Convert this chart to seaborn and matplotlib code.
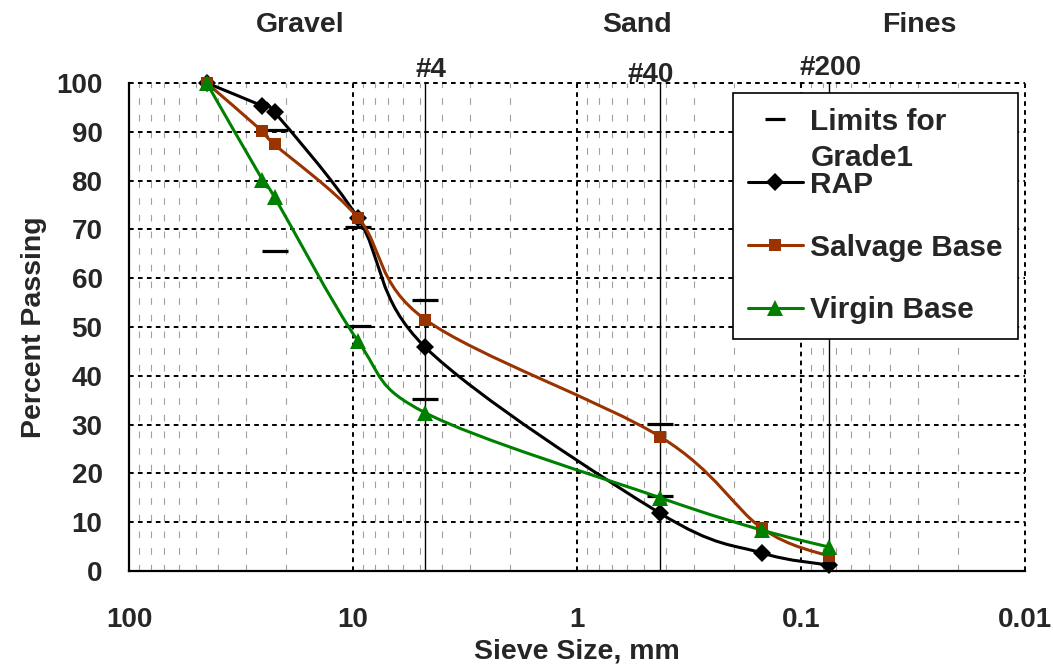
import numpy as np
import pandas as pd
import matplotlib
matplotlib.use('Agg')
import matplotlib.pyplot as plt
import matplotlib.ticker as mticker
from matplotlib.path import Path
from matplotlib.patches import PathPatch
from matplotlib.lines import Line2D
import seaborn as sns

# Sieve sizes (mm) and percent passing
sieve_mm = [45, 25.4, 22.4, 9.5, 4.75, 0.425, 0.15, 0.075]
rap = [100, 95.3, 94.0, 72.3, 45.8, 11.8, 3.7, 1.2]
salvage = [100, 90.1, 87.4, 72.4, 51.5, 27.5, 8.8, 3.0]
virgin = [100, 80.2, 76.6, 47.1, 32.4, 15.0, 8.4, 4.9]

# Grade 1 limits (upper / lower)
limit_mm = [22.4, 22.4, 9.5, 9.5, 4.75, 4.75, 0.425, 0.425]
limit_pct = [90.3, 65.5, 70.4, 50.1, 55.6, 35.3, 30.2, 15.4]

# Standard sieves marked on the chart
sieve_names = ['#4', '#40', '#200']
sieve_marks = [4.75, 0.425, 0.075]

zone_names = ['Gravel', 'Sand', 'Fines']

x_ticks = [100, 10, 1, 0.1, 0.01]
x_ticklabels = ['100', '10', '1', '0.1', '0.01']
y_ticks = list(range(0, 101, 10))

series = {'RAP': rap, 'Salvage Base': salvage, 'Virgin Base': virgin}
df = pd.concat([pd.DataFrame({'size': sieve_mm, 'passing': v, 'material': k})
                for k, v in series.items()], ignore_index=True)
limits = pd.DataFrame({'size': limit_mm, 'passing': limit_pct})


def smooth_path(xs, ys):
    # Excel-style smoothed line: cubic Bezier through the points,
    # built in (log10 x, y) so it is smooth on the log axis
    p = np.column_stack([np.log10(xs), ys])
    n = len(p)
    verts = [p[0]]
    codes = [Path.MOVETO]
    for i in range(n - 1):
        p0 = p[i - 1] if i > 0 else p[i]
        p3 = p[i + 2] if i + 2 < n else p[i + 1]
        verts += [p[i] + (p[i + 1] - p0) / 6, p[i + 1] - (p3 - p[i]) / 6, p[i + 1]]
        codes += [Path.CURVE4] * 3
    verts = np.array(verts)
    verts[:, 0] = 10 ** verts[:, 0]
    return Path(verts, codes)


sns.set_style('white')
plt.rcParams['font.family'] = ['Liberation Sans', 'DejaVu Sans']
plt.rcParams['font.weight'] = 'bold'

fig = plt.figure(figsize=(10.53, 6.69), dpi=100)
ax = fig.add_axes([0.1225, 0.1465, 0.851, 0.7295])

ax.set_xscale('log')
ax.set_xlim(100, 0.01)
ax.set_ylim(0, 100)

# grid: dotted black majors, grey dashed minors on x
ax.set_axisbelow(True)
ax.xaxis.set_minor_locator(mticker.LogLocator(base=10, subs=np.arange(2, 10)))
ax.grid(which='major', axis='both', color='black', linestyle=(0, (2.4, 2.2)), linewidth=1.4)
ax.grid(which='minor', axis='x', color='#a0a0a0', linestyle=(0, (6, 9)), linewidth=0.8)
for gl in ax.get_xgridlines() + ax.get_ygridlines():
    gl.set_clip_on(False)

# sieve lines
for s in sieve_marks:
    ax.axvline(s, color='black', linewidth=1.0, zorder=1.5)

# limits for grade 1
sns.lineplot(data=limits, x='size', y='passing', estimator=None, errorbar=None,
             linestyle='', marker='_', markersize=19, markeredgewidth=2.3,
             markeredgecolor='black', color='black', ax=ax, zorder=3)

styles = {
    'RAP': dict(color='black', marker='D', markersize=9),
    'Salvage Base': dict(color='#993300', marker='s', markersize=8.5),
    'Virgin Base': dict(color='#008000', marker='^', markersize=12),
}
handles = [Line2D([], [], linestyle='', marker='_', markersize=15,
                  markeredgewidth=2.3, color='black')]
z = 4
for name in series:
    sub = df[df['material'] == name]
    st = styles[name]
    ax.add_patch(PathPatch(smooth_path(sub['size'].values, sub['passing'].values),
                           facecolor='none', edgecolor=st['color'], linewidth=2.2,
                           clip_on=False, zorder=z))
    sns.lineplot(data=sub, x='size', y='passing', estimator=None, errorbar=None,
                 linestyle='', markeredgewidth=0, markeredgecolor=st['color'],
                 ax=ax, clip_on=False, zorder=z + 0.1, **st)
    handles.append(Line2D([], [], linewidth=2.2, markeredgewidth=0, **st))
    z += 0.2

ax.set_xticks(x_ticks)
ax.set_xticklabels(x_ticklabels)
ax.set_yticks(y_ticks)
ax.tick_params(axis='x', which='major', direction='out', length=7, width=1.5,
               pad=19, labelsize=20)
ax.tick_params(axis='x', which='minor', length=0)
ax.tick_params(axis='y', which='major', direction='in', length=4, width=1.5,
               pad=19, labelsize=20)
for lab in ax.get_xticklabels() + ax.get_yticklabels():
    lab.set_fontweight('bold')

for side in ['top', 'right']:
    ax.spines[side].set_visible(False)
for side in ['left', 'bottom']:
    ax.spines[side].set_color('black')
    ax.spines[side].set_linewidth(1.6)

ax.set_xlabel('Sieve Size, mm', fontsize=20.5, fontweight='bold', labelpad=4)
ax.set_ylabel('Percent Passing', fontsize=20.5, fontweight='bold', labelpad=7)

# sieve and zone labels above the plot
trans = ax.get_xaxis_transform()
sieve_label_x = [4.5, 0.47, 0.074]
sieve_label_y = [1.027, 1.017, 1.031]
for name, xs, ys in zip(sieve_names, sieve_label_x, sieve_label_y):
    ax.text(xs, ys, name, transform=trans, ha='center', va='center',
            fontsize=20, fontweight='bold')
zone_x = [17.3, 0.54, 0.0297]
for name, xs in zip(zone_names, zone_x):
    ax.text(xs, 1.118, name, transform=trans, ha='center', va='center',
            fontsize=20.5, fontweight='bold')

leg = ax.legend(handles, ['Limits for', 'RAP', 'Salvage Base', 'Virgin Base'],
                loc='upper right', bbox_to_anchor=(0.992, 0.980), borderaxespad=0,
                fontsize=21.5, frameon=True, fancybox=False, framealpha=1,
                edgecolor='black', borderpad=0.5, labelspacing=1.17,
                handlelength=1.85, handletextpad=0.25)
leg.get_frame().set_linewidth(1.2)
for t in leg.get_texts():
    t.set_fontweight('bold')

# second line of the first legend entry
fig.canvas.draw()
bb = leg.get_texts()[0].get_window_extent()
fig.text(bb.x0 / fig.bbox.width, ((bb.y0 + bb.y1) / 2 - 36) / fig.bbox.height,
         'Grade1', ha='left', va='center', fontsize=21.5, fontweight='bold')

fig.savefig('out.png', dpi=100)
